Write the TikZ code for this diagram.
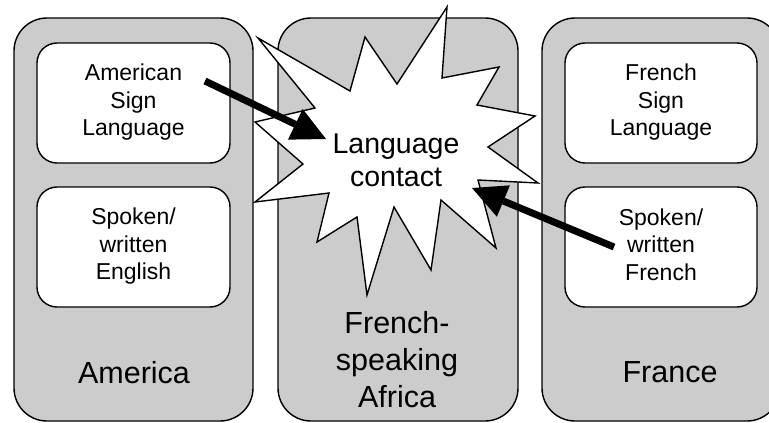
\documentclass[tikz,border=0pt]{standalone}
\usepackage{fontspec}
\setmainfont{Liberation Sans}
\usetikzlibrary{arrows.meta}
\definecolor{panelgray}{RGB}{204,204,204}
\begin{document}
\begin{tikzpicture}[x=1pt,y=-1pt,
  panel/.style={draw=black, line width=1.4pt, fill=panelgray, rounded corners=33pt,
    minimum height=403pt, inner sep=0pt},
  langbox/.style={draw=black, line width=1.4pt, fill=white, rounded corners=20pt,
    minimum height=120pt, inner sep=0pt},
  langtext/.style={align=center, inner sep=0pt, font=\fontsize{23}{27.5}\selectfont},
  regiontext/.style={align=center, inner sep=0pt, font=\fontsize{30.5}{37}\selectfont},
  contacttext/.style={align=center, inner sep=0pt, font=\fontsize{28.5}{33}\selectfont},
  burst/.style={draw=black, line width=1.4pt, fill=white, line join=miter},
  bigarrow/.style={line width=7pt, -{Triangle[length=34pt,width=34pt,line width=0pt]}}]
\useasboundingbox (0,0) rectangle (769,423);
\clip (0,0) rectangle (769,423);

% panels
\node[panel, minimum width=239pt] (america) at (133.5,219.5) {};
\node[panel, minimum width=240pt] (africa) at (398,219.5) {};
\node[panel, minimum width=238pt] (france) at (661,219.5) {};

% language boxes
\node[langbox, minimum width=193pt] (aslbox) at (133.5,103) {};
\node[langbox, minimum width=193pt] (engbox) at (133.5,247) {};
\node[langbox, minimum width=192pt] (lsfbox) at (661,103) {};
\node[langbox, minimum width=192pt] (frbox) at (661,247) {};

\node[langtext] (asl) at (133.5,102.3) {American\\Sign\\Language};
\node[langtext] (eng) at (133.5,246.5) {Spoken/\\written\\English};
\node[langtext] (lsf) at (661,102.3) {French\\Sign\\Language};
\node[langtext] (fr) at (661,244.5) {Spoken/\\written\\French};

% region labels
\node[regiontext] (americalabel) at (134,372.2) {America};
\node[regiontext] (africalabel) at (397,359.9) {French-\\speaking\\Africa};
\node[regiontext] (francelabel) at (670,372.2) {France};

% starburst
\draw[burst] (447,7) -- (442,78) -- (499,67) -- (477,105) -- (535,116) -- (488,147)
  -- (538,183) -- (478,180) -- (496,248) -- (441,200) -- (431,270) -- (394,207)
  -- (367,295) -- (357,217) -- (317,242) -- (329,193) -- (255,202) -- (303,164)
  -- (255,122) -- (315,108) -- (258,38) -- (350,91) -- (365,37) -- (397,84) -- cycle;
\node[contacttext] (contact) at (396,160.1) {Language\\contact};

% arrows
\coordinate (aslfrom) at (205,81);
\coordinate (aslto) at (326,139);
\coordinate (frfrom) at (614,247);
\coordinate (frto) at (472,188);
\draw[bigarrow] (aslfrom) -- (aslto);
\draw[bigarrow] (frfrom) -- (frto);
\end{tikzpicture}
\end{document}
